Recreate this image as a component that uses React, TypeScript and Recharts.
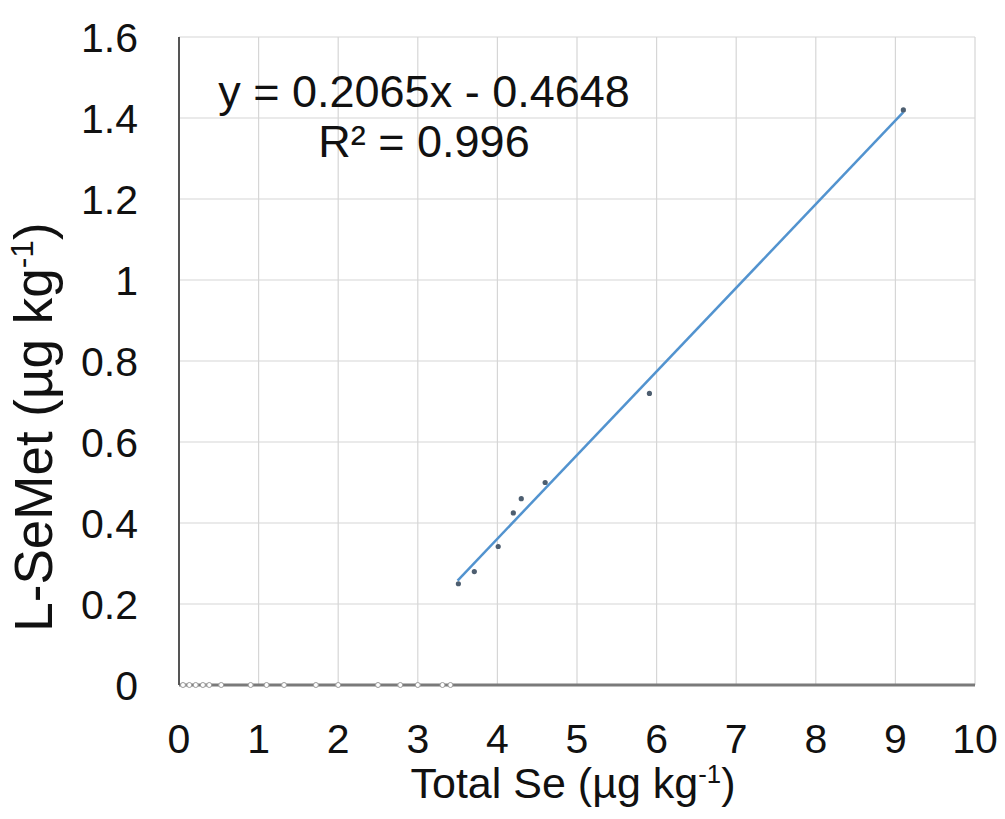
import { ScatterChart, Scatter, XAxis, YAxis, CartesianGrid, ReferenceLine } from 'recharts';

const FONT = '"Liberation Sans", Arial, sans-serif';

// samples with no L-SeMet detected (sit on the x axis)
const zeroTotalSe = [0.05, 0.13, 0.21, 0.3, 0.38, 0.53, 0.9, 1.1, 1.32, 1.72, 2.0, 2.5, 2.78, 3.0, 3.31, 3.41];

// samples with measurable L-SeMet
const totalSe = [3.51, 3.71, 4.01, 4.2, 4.3, 4.6, 5.91, 9.1];
const lSeMet = [0.25, 0.28, 0.342, 0.425, 0.46, 0.5, 0.72, 1.42];

// Excel linear trendline as labelled on the chart
const slope = 0.2065;
const intercept = -0.4648;
const trendFrom = 3.5;
const trendTo = 9.1;

const xTicks = [0, 1, 2, 3, 4, 5, 6, 7, 8, 9, 10];
const yTicks = [0, 0.2, 0.4, 0.6, 0.8, 1, 1.2, 1.4, 1.6];

const zeroData = zeroTotalSe.map((x) => ({ x, y: 0 }));
const measured = totalSe.map((x, i) => ({ x, y: lSeMet[i] }));

const HollowDot = (props: any) => (
  <circle cx={props.cx} cy={props.cy} r={2.5} fill="#fff" stroke="#9a9a9a" strokeWidth={1} />
);
const SolidDot = (props: any) => (
  <circle cx={props.cx} cy={props.cy} r={2.6} fill="#4d5e70" />
);

export default function App() {
  const tick = { fontSize: 41, fill: '#111', fontFamily: FONT };
  return (
    <div style={{ position: 'absolute', left: 0, top: 0, width: 1005, height: 819, background: '#fff', fontFamily: FONT }}>
      <ScatterChart width={1005} height={819} margin={{ top: 37, right: 30, left: 0, bottom: 0 }}>
        <CartesianGrid stroke="#d6d6d6" strokeWidth={1.2} />
        <XAxis
          type="number"
          dataKey="x"
          domain={[0, 10]}
          ticks={xTicks}
          interval={0}
          height={134}
          tick={tick}
          tickLine={false}
          tickSize={0}
          tickMargin={39}
          axisLine={{ stroke: '#7a7a7a', strokeWidth: 3 }}
        />
        <YAxis
          type="number"
          dataKey="y"
          domain={[0, 1.6]}
          ticks={yTicks}
          interval={0}
          width={179}
          tick={tick}
          tickLine={false}
          tickSize={0}
          tickMargin={41}
          tickFormatter={(v: number) => String(v)}
          axisLine={{ stroke: '#555', strokeWidth: 2 }}
        />
        <ReferenceLine
          segment={[
            { x: trendFrom, y: slope * trendFrom + intercept },
            { x: trendTo, y: slope * trendTo + intercept },
          ]}
          stroke="#5293cf"
          strokeWidth={2.5}
        />
        <Scatter data={zeroData} shape={HollowDot} isAnimationActive={false} />
        <Scatter data={measured} shape={SolidDot} isAnimationActive={false} />
      </ScatterChart>

      <div
        style={{
          position: 'absolute',
          left: 424,
          top: 67,
          transform: 'translateX(-50%)',
          fontSize: 45,
          lineHeight: '50px',
          textAlign: 'center',
          whiteSpace: 'nowrap',
          color: '#111',
        }}
      >
        <div>y = 0.2065x - 0.4648</div>
        <div>R² = 0.996</div>
      </div>

      <div
        style={{
          position: 'absolute',
          left: 573,
          top: 762,
          transform: 'translateX(-50%)',
          fontSize: 43,
          lineHeight: 1,
          whiteSpace: 'nowrap',
          color: '#111',
        }}
      >
        Total Se (µg kg<sup style={{ fontSize: '0.6em' }}>-1</sup>)
      </div>

      <div
        style={{
          position: 'absolute',
          left: 33,
          top: 427,
          transform: 'translate(-50%, -50%) rotate(-90deg)',
          fontSize: 53,
          lineHeight: 1,
          whiteSpace: 'nowrap',
          color: '#111',
        }}
      >
        L-SeMet (µg kg<sup style={{ fontSize: '0.6em' }}>-1</sup>)
      </div>
    </div>
  );
}
